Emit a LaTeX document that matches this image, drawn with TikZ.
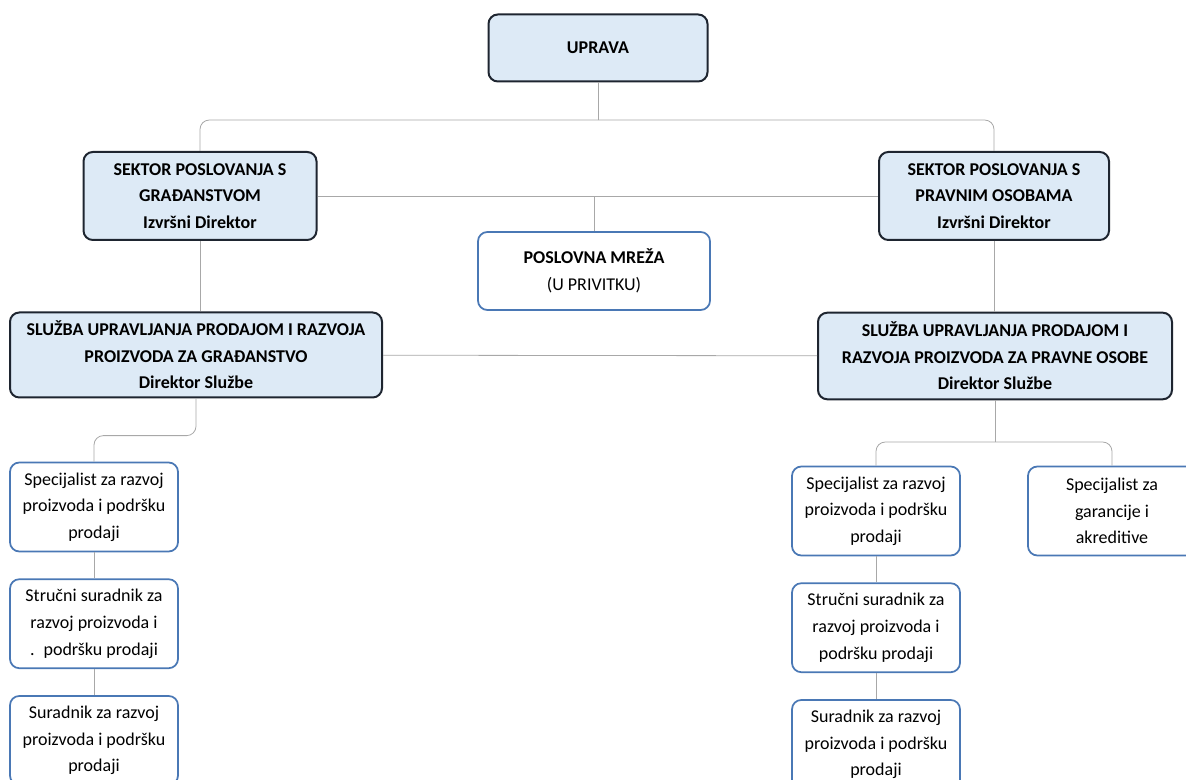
\documentclass[tikz,border=0pt]{standalone}
\usepackage{fontspec}
\setmainfont{Carlito}
\usetikzlibrary{positioning}
\definecolor{headfill}{HTML}{DDEAF6}
\definecolor{headline}{HTML}{1E2530}
\definecolor{unitline}{HTML}{4A78B5}
\definecolor{linkgray}{HTML}{A8A8A8}
\begin{document}
\begin{tikzpicture}[
    x=0.75pt, y=-0.75pt,
    node distance=19.5pt,
    font=\fontsize{13.5}{20}\selectfont,
    head/.style={rectangle, draw=headline, line width=1.5pt, fill=headfill, rounded corners=7pt, align=center, inner xsep=2pt, font=\fontsize{13.5}{20}\selectfont\bfseries},
    unit/.style={rectangle, draw=unitline, line width=1.3pt, fill=white, rounded corners=7pt, align=center, inner xsep=2pt, minimum width=126pt, minimum height=66.75pt},
    link/.style={draw=linkgray, line width=0.6pt},
    elbow/.style={link, rounded corners=7pt}
]
    \useasboundingbox (0,0) rectangle (1186,780);

    \node [head, minimum width=164.25pt, minimum height=50.25pt] (uprava) at (598,48) {UPRAVA};
    \node [head, minimum width=174.75pt, minimum height=66pt] (sekGr) at (200,196) {SEKTOR POSLOVANJA S\\GRAĐANSTVOM\\Izvršni Direktor};
    \node [head, minimum width=172.5pt, minimum height=66pt] (sekPr) at (994,196) {SEKTOR POSLOVANJA S\\PRAVNIM OSOBAMA\\Izvršni Direktor};
    \node [unit, minimum width=174pt, minimum height=58.5pt] (mreza) at (594,271) {\textbf{POSLOVNA MREŽA}\\(U PRIVITKU)};
    \node [head, minimum width=279pt, minimum height=63.75pt] (sluGr) at (196,355) {SLUŽBA UPRAVLJANJA PRODAJOM I RAZVOJA\\PROIZVODA ZA GRAĐANSTVO\\Direktor Službe};
    \node [head, minimum width=265.5pt, minimum height=65pt] (sluPr) at (995,356) {SLUŽBA UPRAVLJANJA PRODAJOM I\\RAZVOJA PROIZVODA ZA PRAVNE OSOBE\\Direktor Službe};

    \node [unit] (specGr) at (94,507) {Specijalist za razvoj\\proizvoda i podršku\\prodaji};
    \node [unit, below=of specGr] (strGr) {Stručni suradnik za\\razvoj proizvoda i\\.\enspace podršku prodaji};
    \node [unit, below=of strGr] (surGr) {Suradnik za razvoj\\proizvoda i podršku\\prodaji};

    \node [unit] (specPr) at (876,511) {Specijalist za razvoj\\proizvoda i podršku\\prodaji};
    \node [unit, below=of specPr] (strPr) {Stručni suradnik za\\razvoj proizvoda i\\podršku prodaji};
    \node [unit, below=of strPr] (surPr) {Suradnik za razvoj\\proizvoda i podršku\\prodaji};
    \node [unit] (garan) at (1112,511) {Specijalist za\\garancije i\\akreditive};

    \coordinate (busTop) at (598,120);
    \coordinate (busPr) at (995,442);

    \draw [link] (uprava) -- (busTop);
    \draw [elbow] (busTop) -| (sekGr);
    \draw [elbow] (busTop) -| (sekPr);
    \draw [link] (sekGr) -- (sekPr);
    \draw [link] (mreza.north) -- (mreza.north |- sekGr.east);
    \draw [link] (sekGr.south) -- (sekGr.south |- sluGr.north);
    \draw [link] (sekPr.south) -- (sekPr.south |- sluPr.north);
    \draw [link] (sluGr) -- (sluPr);
    \draw [elbow] (sluGr.south) |- ([yshift=19.5pt]specGr.north) -- (specGr.north);
    \draw [link] (specGr) -- (strGr);
    \draw [link] (strGr) -- (surGr);
    \draw [link] (sluPr) -- (busPr);
    \draw [elbow] (busPr) -| (specPr);
    \draw [elbow] (busPr) -| (garan);
    \draw [link] (specPr) -- (strPr);
    \draw [link] (strPr) -- (surPr);
\end{tikzpicture}
\end{document}
